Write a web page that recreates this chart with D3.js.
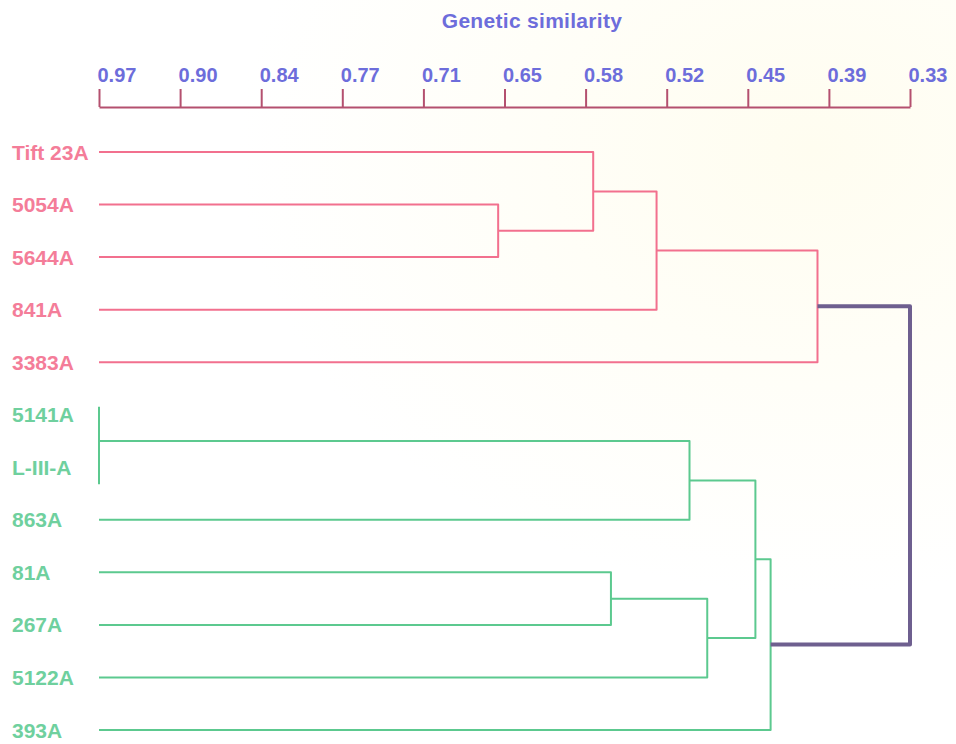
<!DOCTYPE html>
<html>
<head>
<meta charset="utf-8">
<script src="https://cdn.jsdelivr.net/npm/d3@7"></script>
<style>
  html, body { margin: 0; padding: 0; background: #ffffff; }
  svg { display: block; font-family: "Liberation Sans", Arial, sans-serif; }
</style>
</head>
<body>
<svg id="chart" width="956" height="744"></svg>
<script>
// ---------------- data ----------------
const leaves = ["Tift 23A", "5054A", "5644A", "841A", "3383A",
                "5141A", "L-III-A", "863A", "81A", "267A", "5122A", "393A"];
const leafGroup = ["A", "A", "A", "A", "A", "B", "B", "B", "B", "B", "B", "B"];
// merges: [childA, childB, similarity]; new node ids start at leaves.length
const mergeLeft   = [1, 0, 13, 14, 5, 16, 8, 18, 17, 20, 15];
const mergeRight  = [2, 12, 3, 4, 6, 7, 9, 10, 19, 11, 21];
const mergeHeight = [0.655, 0.580, 0.530, 0.403, 0.97, 0.504, 0.566, 0.490, 0.452, 0.440, 0.33];
const tickLabels = ["0.97", "0.90", "0.84", "0.77", "0.71", "0.65", "0.58", "0.52", "0.45", "0.39", "0.33"];
const tickStart = 0.97, tickStep = 0.064;
const axisTitle = "Genetic similarity";

// ---------------- style ----------------
const colors = { A: "#f2708e", B: "#5cc98f", root: "#6e5f8f" };
const labelColors = { A: "#f47d99", B: "#6fd09e" };
const axisColor = "#b4506f";
const tickTextColor = "#6d6ddb";

const svg = d3.select("#chart");

// faint cream tint in background
const defs = svg.append("defs");
const rg = defs.append("radialGradient").attr("id", "bg")
  .attr("cx", "0.85").attr("cy", "0.2").attr("r", "0.6");
rg.append("stop").attr("offset", "0").attr("stop-color", "#fffdf0");
rg.append("stop").attr("offset", "1").attr("stop-color", "#ffffff");
svg.append("rect").attr("width", 956).attr("height", 744).attr("fill", "url(#bg)");

const x = d3.scaleLinear().domain([0.97, 0.33]).range([99, 910]);
const y = d3.scalePoint().domain(d3.range(leaves.length)).range([152, 730]);

// ---------------- axis ----------------
const tickValues = tickLabels.map((_, i) => tickStart - i * tickStep);
const axis = d3.axisTop(x)
  .tickValues(tickValues)
  .tickSize(18)
  .tickSizeOuter(0)
  .tickFormat((d, i) => tickLabels[i]);

const gAxis = svg.append("g").attr("transform", "translate(0,107)").call(axis);
gAxis.select(".domain").attr("stroke", axisColor).attr("stroke-width", 2);
gAxis.selectAll(".tick line").attr("stroke", axisColor).attr("stroke-width", 2);
gAxis.selectAll(".tick text")
  .attr("fill", tickTextColor)
  .attr("font-size", 20)
  .attr("font-weight", "bold")
  .attr("text-anchor", "start")
  .attr("x", -2)
  .attr("y", -25)
  .attr("dy", 0);

svg.append("text")
  .attr("x", 532).attr("y", 28)
  .attr("text-anchor", "middle")
  .attr("fill", tickTextColor)
  .attr("font-size", 21)
  .attr("font-weight", "bold")
  .attr("letter-spacing", 0.3)
  .text(axisTitle);

// ---------------- dendrogram ----------------
const nodes = leaves.map((name, i) => ({ id: i, h: 0.97, y: y(i), group: leafGroup[i] }));
mergeLeft.forEach((a, k) => {
  const b = mergeRight[k];
  const na = nodes[a], nb = nodes[b];
  nodes.push({
    id: nodes.length,
    h: mergeHeight[k],
    y: (na.y + nb.y) / 2,
    group: na.group === nb.group ? na.group : "root",
    a: na, b: nb
  });
});

const internal = nodes.filter(n => n.a);
svg.append("g").selectAll("path")
  .data(internal)
  .join("path")
  .attr("fill", "none")
  .attr("stroke", d => colors[d.group])
  .attr("stroke-width", d => d.group === "root" ? 4 : 2)
  .attr("stroke-linejoin", "round")
  .attr("d", d => {
    const xm = x(d.h);
    if (d.a.h === d.h && d.b.h === d.h) {
      return `M${xm},${d.a.y - 8}V${d.b.y + 17}`;
    }
    return `M${x(d.a.h)},${d.a.y}H${xm}V${d.b.y}H${x(d.b.h)}`;
  });

// leaf labels
svg.append("g").selectAll("text")
  .data(leaves)
  .join("text")
  .attr("x", 12)
  .attr("y", (d, i) => y(i))
  .attr("dy", "0.36em")
  .attr("fill", (d, i) => labelColors[leafGroup[i]])
  .attr("font-size", 21)
  .attr("font-weight", "bold")
  .text(d => d);
</script>
</body>
</html>
